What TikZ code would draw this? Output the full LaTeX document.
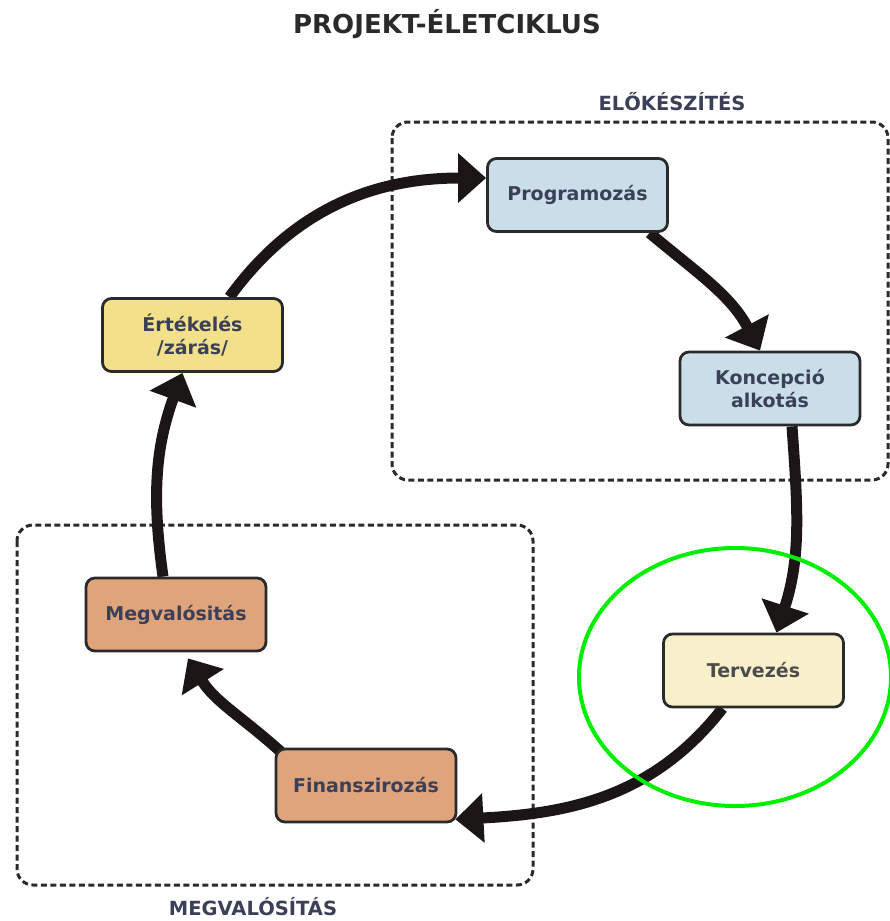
\documentclass[tikz,border=0pt]{standalone}
\usepackage{fontspec}
\setmainfont{DejaVu Sans}
\usetikzlibrary{arrows.meta,backgrounds}
\definecolor{blueF}{HTML}{C9DEE8}
\definecolor{creamF}{HTML}{F8F0CB}
\definecolor{orangeF}{HTML}{DFA47C}
\definecolor{yellowF}{HTML}{F3E08A}
\definecolor{textc}{HTML}{3B4058}
\definecolor{boxline}{HTML}{2B2A2A}
\definecolor{arrowc}{HTML}{1C1515}
\definecolor{dashc}{HTML}{2A2A2A}
\definecolor{hlgreen}{HTML}{00EE00}
\tikzset{
  stagebox/.style={draw=boxline, line width=2.8pt, rounded corners=9pt,
    minimum width=180pt, minimum height=73pt, align=center, text=textc,
    font=\fontsize{19}{23}\selectfont\bfseries},
  cyclearrow/.style={draw=arrowc, line width=11pt,
    -{Triangle[length=28pt,width=48pt]}},
  phasebox/.style={draw=dashc, line width=3pt, dash pattern=on 6pt off 3.5pt,
    rounded corners=16pt},
  phaselabel/.style={text=textc, font=\fontsize{19.5}{22}\selectfont\bfseries},
  titletext/.style={text=dashc, font=\fontsize{26}{30}\selectfont\bfseries},
  highlight/.style={draw=hlgreen, line width=4pt}
}
\begin{document}
\begin{tikzpicture}[x=1pt,y=-1pt]
\useasboundingbox (0,0) rectangle (890,921);

\node[titletext] (title) at (447,24) {PROJEKT-ÉLETCIKLUS};
\node[phaselabel] (elolab) at (672,102) {ELŐKÉSZÍTÉS};
\node[phaselabel] (meglab) at (253,907) {MEGVALÓSÍTÁS};

\node[stagebox, fill=blueF] (prog) at (577.5,195) {Programozás};
\node[stagebox, fill=blueF] (konc) at (770,388.5) {Koncepció\\alkotás};
\node[stagebox, fill=creamF, text=black!70] (terv) at (753.5,670.5) {Tervezés};
\node[stagebox, fill=orangeF] (fin) at (366,785.5) {Finanszirozás};
\node[stagebox, fill=orangeF] (megv) at (176,614.5) {Megvalósitás};
\node[stagebox, fill=yellowF] (ert) at (192.5,335) {Értékelés\\/zárás/};

\begin{pgfonlayer}{background}
  \draw[phasebox] (392,122) rectangle (888,480);
  \draw[phasebox] (17,525) rectangle (533,885);
  \draw[cyclearrow] ([xshift=37pt]ert.north) to[out=54,in=180] ([yshift=17pt]prog.west);
  \draw[cyclearrow] ([xshift=72pt]prog.south) to[out=-40,in=118] ([xshift=-10pt]konc.north);
  \draw[cyclearrow] ([xshift=22pt]konc.south) to[out=-86,in=72] ([xshift=23pt]terv.north);
  \draw[cyclearrow] ([xshift=-31pt]terv.south) to[out=-128,in=3] ([xshift=-2pt,yshift=4pt]fin.south east);
  \draw[cyclearrow] ([xshift=6pt,yshift=-4pt]fin.north west) to[out=138,in=-58] ([xshift=12pt,yshift=-6pt]megv.south);
  \draw[cyclearrow] ([xshift=-13pt]megv.north) to[out=98,in=-110] ([xshift=-10pt]ert.south);
\end{pgfonlayer}

\draw[highlight] (735,677) ellipse [x radius=156pt, y radius=129pt];
\end{tikzpicture}
\end{document}
